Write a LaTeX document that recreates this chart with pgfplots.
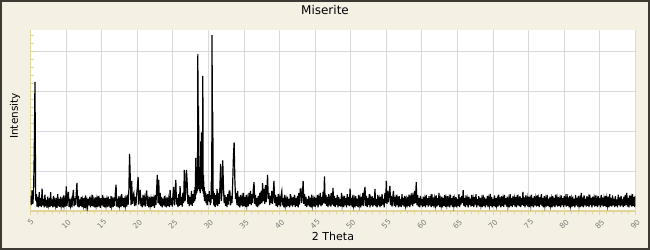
\documentclass[border=0pt]{standalone}
\usepackage{fontspec}
\setmainfont{DejaVu Sans}
\usepackage{pgfplots}
\pgfplotsset{compat=1.18}
\definecolor{bgcol}{HTML}{F4F1E4}
\definecolor{bordercol}{HTML}{3C3A32}
\definecolor{axcol}{HTML}{E0D69A}
\definecolor{gridcol}{HTML}{D9D9D9}
\definecolor{tickcol}{HTML}{7A7A7A}
\begin{document}
\begin{tikzpicture}
\useasboundingbox (0,0) rectangle (650bp,250bp);
\draw[draw=bordercol, line width=2bp, fill=bgcol] (1bp,1bp) rectangle (649bp,249bp);
\begin{axis}[
  at={(30.7bp,39bp)}, anchor=south west,
  scale only axis, width=604.6bp, height=181bp,
  xmin=5, xmax=90, ymin=0, ymax=4530,
  enlargelimits=false,
  axis background/.style={fill=white},
  axis x line*=bottom, axis y line*=left,
  axis line style={axcol, line width=1.3bp},
  tick style={axcol, line width=1bp},
  tick align=outside,
  major tick length=4.5bp, minor tick length=3.5bp,
  every major y tick/.append style={xshift=4.5bp},
  every minor y tick/.append style={xshift=3.5bp},
  xtick distance=5, minor x tick num=4,
  ytick distance=1000, minor y tick num=4,
  yticklabels={},
  grid=major, major grid style={gridcol, line width=1bp},
  /pgf/number format/assume math mode=true,
  xticklabel={\rotatebox{45}{\pgfmathprintnumber{\tick}}},
  xticklabel shift=2bp,
  xticklabel style={font=\fontsize{7.5bp}{8bp}\selectfont, text=tickcol, inner sep=1bp},
  xlabel={2 Theta}, ylabel={Intensity},
  every axis x label/.style={at={(axis description cs:0.5,-0.138)}, anchor=center, font=\fontsize{11bp}{12bp}\selectfont},
  every axis y label/.style={at={(axis description cs:-0.026,0.525)}, anchor=center, rotate=90, font=\fontsize{10.5bp}{12bp}\selectfont},
]
\addplot[black, line width=1.2bp, line join=miter] table[row sep=\\] {
x y\\
5.0 380\\ 5.1 150\\ 5.2 520\\ 5.3 180\\ 5.4 430\\ 5.5 1490\\ 5.6 3230\\ 5.7 260\\ 5.8 420\\ 5.9 110\\
6.0 350\\ 6.1 90\\ 6.2 470\\ 6.3 130\\ 6.4 320\\ 6.5 100\\ 6.6 560\\ 6.7 140\\ 6.8 300\\ 6.9 90\\
7.0 410\\ 7.1 120\\ 7.2 280\\ 7.3 80\\ 7.4 360\\ 7.5 150\\ 7.6 240\\ 7.7 100\\ 7.8 470\\ 7.9 130\\
8.0 290\\ 8.1 90\\ 8.2 380\\ 8.3 110\\ 8.4 250\\ 8.5 140\\ 8.6 330\\ 8.7 80\\ 8.8 420\\ 8.9 120\\
9.0 300\\ 9.1 100\\ 9.2 360\\ 9.3 130\\ 9.4 240\\ 9.5 90\\ 9.6 390\\ 9.7 150\\ 9.8 280\\ 9.9 110\\
10.0 615\\ 10.1 130\\ 10.2 350\\ 10.3 480\\ 10.4 100\\ 10.5 300\\ 10.6 140\\ 10.7 260\\ 10.8 90\\ 10.9 340\\
11.0 530\\ 11.1 120\\ 11.2 320\\ 11.3 150\\ 11.4 420\\ 11.5 700\\ 11.6 110\\ 11.7 380\\ 11.8 90\\ 11.9 290\\
12.0 130\\ 12.1 350\\ 12.2 100\\ 12.3 270\\ 12.4 140\\ 12.5 330\\ 12.6 80\\ 12.7 390\\ 12.8 120\\ 12.9 250\\
13.0 100\\ 13.1 310\\ 13.2 140\\ 13.3 360\\ 13.4 90\\ 13.5 280\\ 13.6 130\\ 13.7 400\\ 13.8 110\\ 13.9 240\\
14.0 90\\ 14.1 340\\ 14.2 150\\ 14.3 290\\ 14.4 100\\ 14.5 370\\ 14.6 120\\ 14.7 260\\ 14.8 80\\ 14.9 320\\
15.0 140\\ 15.1 400\\ 15.2 110\\ 15.3 250\\ 15.4 90\\ 15.5 330\\ 15.6 150\\ 15.7 280\\ 15.8 100\\ 15.9 360\\
16.0 120\\ 16.1 300\\ 16.2 80\\ 16.3 380\\ 16.4 140\\ 16.5 260\\ 16.6 100\\ 16.7 340\\ 16.8 130\\ 16.9 450\\
17.0 660\\ 17.1 110\\ 17.2 310\\ 17.3 90\\ 17.4 370\\ 17.5 150\\ 17.6 280\\ 17.7 100\\ 17.8 420\\ 17.9 130\\
18.0 330\\ 18.1 90\\ 18.2 260\\ 18.3 140\\ 18.4 390\\ 18.5 110\\ 18.6 300\\ 18.7 160\\ 18.8 520\\ 18.9 1430\\
19.0 830\\ 19.1 150\\ 19.2 755\\ 19.3 180\\ 19.4 400\\ 19.5 450\\ 19.6 120\\ 19.7 350\\ 19.8 140\\ 19.9 420\\
20.0 600\\ 20.1 850\\ 20.2 160\\ 20.3 380\\ 20.4 530\\ 20.5 120\\ 20.6 330\\ 20.7 90\\ 20.8 400\\ 20.9 140\\
21.0 300\\ 21.1 110\\ 21.2 380\\ 21.3 515\\ 21.4 130\\ 21.5 270\\ 21.6 90\\ 21.7 350\\ 21.8 150\\ 21.9 290\\
22.0 100\\ 22.1 360\\ 22.2 130\\ 22.3 280\\ 22.4 80\\ 22.5 400\\ 22.6 150\\ 22.7 520\\ 22.8 905\\ 22.9 200\\
23.0 780\\ 23.1 160\\ 23.2 450\\ 23.3 120\\ 23.4 350\\ 23.5 90\\ 23.6 310\\ 23.7 140\\ 23.8 380\\ 23.9 110\\
24.0 260\\ 24.1 90\\ 24.2 340\\ 24.3 130\\ 24.4 290\\ 24.5 100\\ 24.6 530\\ 24.7 150\\ 24.8 320\\ 24.9 110\\
25.0 400\\ 25.1 600\\ 25.2 140\\ 25.3 380\\ 25.4 780\\ 25.5 160\\ 25.6 330\\ 25.7 100\\ 25.8 420\\ 25.9 130\\
26.0 620\\ 26.1 150\\ 26.2 350\\ 26.3 110\\ 26.4 460\\ 26.5 200\\ 26.6 1030\\ 26.7 250\\ 26.8 480\\ 26.9 1030\\
27.0 700\\ 27.1 180\\ 27.2 400\\ 27.3 120\\ 27.4 350\\ 27.5 160\\ 27.6 500\\ 27.7 130\\ 27.8 420\\ 27.9 200\\
28.00 520\\ 28.05 250\\ 28.10 600\\ 28.15 300\\ 28.20 1330\\ 28.25 400\\ 28.30 1100\\ 28.35 450\\ 28.40 700\\ 28.45 500\\
28.50 3930\\ 28.55 600\\ 28.60 2630\\ 28.65 550\\ 28.70 1100\\ 28.75 500\\ 28.80 800\\ 28.85 450\\ 28.90 1740\\ 28.95 600\\
29.00 1965\\ 29.05 550\\ 29.10 900\\ 29.15 500\\ 29.20 3380\\ 29.25 450\\ 29.30 900\\ 29.35 350\\ 29.40 600\\ 29.45 250\\
29.50 500\\ 29.55 300\\ 29.60 450\\ 29.65 200\\ 29.70 400\\ 29.75 280\\ 29.80 350\\ 29.85 150\\ 29.90 420\\ 29.95 300\\
30.00 380\\ 30.05 250\\ 30.10 500\\ 30.15 220\\ 30.20 400\\ 30.25 150\\ 30.30 350\\ 30.35 200\\ 30.40 760\\ 30.45 300\\
30.50 4400\\ 30.55 500\\ 30.60 2490\\ 30.65 300\\ 30.70 500\\ 30.75 150\\ 30.80 450\\ 30.85 120\\ 30.90 380\\ 30.95 100\\
31.0 400\\ 31.1 150\\ 31.2 550\\ 31.3 120\\ 31.4 450\\ 31.5 180\\ 31.6 600\\ 31.7 1180\\ 31.8 250\\ 31.9 500\\
32.0 1265\\ 32.1 600\\ 32.2 200\\ 32.3 400\\ 32.4 130\\ 32.5 350\\ 32.6 100\\ 32.7 420\\ 32.8 160\\ 32.9 500\\
33.0 500\\ 33.1 140\\ 33.2 380\\ 33.3 200\\ 33.4 700\\ 33.5 1365\\ 33.6 1715\\ 33.7 800\\ 33.8 300\\ 33.9 450\\
34.0 150\\ 34.1 500\\ 34.2 120\\ 34.3 350\\ 34.4 90\\ 34.5 400\\ 34.6 140\\ 34.7 300\\ 34.8 110\\ 34.9 455\\
35.0 130\\ 35.1 350\\ 35.2 100\\ 35.3 400\\ 35.4 160\\ 35.5 300\\ 35.6 120\\ 35.7 450\\ 35.8 180\\ 35.9 500\\
36.0 150\\ 36.1 420\\ 36.2 200\\ 36.3 550\\ 36.4 720\\ 36.5 180\\ 36.6 400\\ 36.7 120\\ 36.8 330\\ 36.9 100\\
37.0 380\\ 37.1 140\\ 37.2 450\\ 37.3 170\\ 37.4 500\\ 37.5 200\\ 37.6 700\\ 37.7 250\\ 37.8 550\\ 37.9 180\\
38.0 650\\ 38.1 220\\ 38.2 500\\ 38.3 905\\ 38.4 300\\ 38.5 450\\ 38.6 150\\ 38.7 380\\ 38.8 200\\ 38.9 500\\
39.0 180\\ 39.1 450\\ 39.2 755\\ 39.3 200\\ 39.4 400\\ 39.5 130\\ 39.6 350\\ 39.7 100\\ 39.8 420\\ 39.9 150\\
40.0 300\\ 40.1 110\\ 40.2 380\\ 40.3 490\\ 40.4 140\\ 40.5 330\\ 40.6 90\\ 40.7 400\\ 40.8 150\\ 40.9 280\\
41.0 100\\ 41.1 360\\ 41.2 130\\ 41.3 300\\ 41.4 90\\ 41.5 420\\ 41.6 140\\ 41.7 270\\ 41.8 110\\ 41.9 350\\
42.0 150\\ 42.1 400\\ 42.2 100\\ 42.3 320\\ 42.4 130\\ 42.5 380\\ 42.6 90\\ 42.7 450\\ 42.8 160\\ 42.9 550\\
43.0 550\\ 43.1 200\\ 43.2 400\\ 43.3 755\\ 43.4 180\\ 43.5 420\\ 43.6 130\\ 43.7 350\\ 43.8 100\\ 43.9 300\\
44.0 140\\ 44.1 380\\ 44.2 110\\ 44.3 330\\ 44.4 90\\ 44.5 410\\ 44.6 150\\ 44.7 280\\ 44.8 120\\ 44.9 360\\
45.0 100\\ 45.1 330\\ 45.2 140\\ 45.3 400\\ 45.4 90\\ 45.5 300\\ 45.6 160\\ 45.7 450\\ 45.8 120\\ 45.9 350\\
46.0 150\\ 46.1 480\\ 46.2 200\\ 46.3 865\\ 46.4 180\\ 46.5 400\\ 46.6 130\\ 46.7 350\\ 46.8 100\\ 46.9 420\\
47.0 140\\ 47.1 300\\ 47.2 110\\ 47.3 450\\ 47.4 160\\ 47.5 575\\ 47.6 130\\ 47.7 380\\ 47.8 100\\ 47.9 320\\
48.0 150\\ 48.1 400\\ 48.2 90\\ 48.3 350\\ 48.4 130\\ 48.5 300\\ 48.6 110\\ 48.7 455\\ 48.8 160\\ 48.9 280\\
49.0 100\\ 49.1 380\\ 49.2 140\\ 49.3 320\\ 49.4 90\\ 49.5 420\\ 49.6 150\\ 49.7 350\\ 49.8 120\\ 49.9 560\\
50.0 140\\ 50.1 330\\ 50.2 100\\ 50.3 400\\ 50.4 150\\ 50.5 280\\ 50.6 90\\ 50.7 370\\ 50.8 130\\ 50.9 310\\
51.0 100\\ 51.1 400\\ 51.2 160\\ 51.3 300\\ 51.4 90\\ 51.5 360\\ 51.6 140\\ 51.7 450\\ 51.8 120\\ 51.9 480\\
52.0 600\\ 52.1 130\\ 52.2 380\\ 52.3 100\\ 52.4 320\\ 52.5 150\\ 52.6 420\\ 52.7 90\\ 52.8 290\\ 52.9 140\\
53.0 370\\ 53.1 110\\ 53.2 330\\ 53.3 150\\ 53.4 550\\ 53.5 120\\ 53.6 300\\ 53.7 90\\ 53.8 400\\ 53.9 140\\
54.0 280\\ 54.1 100\\ 54.2 360\\ 54.3 130\\ 54.4 420\\ 54.5 160\\ 54.6 310\\ 54.7 90\\ 54.8 450\\ 54.9 200\\
55.0 755\\ 55.1 180\\ 55.2 500\\ 55.3 220\\ 55.4 420\\ 55.5 630\\ 55.6 150\\ 55.7 380\\ 55.8 110\\ 55.9 330\\
56.0 500\\ 56.1 130\\ 56.2 350\\ 56.3 100\\ 56.4 400\\ 56.5 150\\ 56.6 290\\ 56.7 90\\ 56.8 370\\ 56.9 120\\
57.0 300\\ 57.1 100\\ 57.2 420\\ 57.3 140\\ 57.4 330\\ 57.5 110\\ 57.6 380\\ 57.7 150\\ 57.8 280\\ 57.9 90\\
58.0 350\\ 58.1 130\\ 58.2 410\\ 58.3 100\\ 58.4 300\\ 58.5 160\\ 58.6 450\\ 58.7 120\\ 58.8 330\\ 58.9 180\\
59.0 500\\ 59.1 200\\ 59.2 720\\ 59.3 150\\ 59.4 400\\ 59.5 110\\ 59.6 330\\ 59.7 90\\ 59.8 380\\ 59.9 140\\
60.0 300\\ 60.1 100\\ 60.2 360\\ 60.3 130\\ 60.4 280\\ 60.5 90\\ 60.6 400\\ 60.7 150\\ 60.8 320\\ 60.9 110\\
61.0 370\\ 61.1 140\\ 61.2 290\\ 61.3 100\\ 61.4 420\\ 61.5 130\\ 61.6 340\\ 61.7 90\\ 61.8 300\\ 61.9 160\\
62.0 390\\ 62.1 110\\ 62.2 320\\ 62.3 140\\ 62.4 450\\ 62.5 100\\ 62.6 280\\ 62.7 150\\ 62.8 360\\ 62.9 90\\
63.0 330\\ 63.1 130\\ 63.2 400\\ 63.3 100\\ 63.4 300\\ 63.5 160\\ 63.6 370\\ 63.7 120\\ 63.8 280\\ 63.9 90\\
64.0 410\\ 64.1 140\\ 64.2 320\\ 64.3 100\\ 64.4 380\\ 64.5 150\\ 64.6 290\\ 64.7 110\\ 64.8 350\\ 64.9 90\\
65.0 300\\ 65.1 130\\ 65.2 420\\ 65.3 100\\ 65.4 340\\ 65.5 160\\ 65.6 380\\ 65.7 200\\ 65.8 520\\ 65.9 130\\
66.0 330\\ 66.1 100\\ 66.2 390\\ 66.3 140\\ 66.4 280\\ 66.5 90\\ 66.6 360\\ 66.7 150\\ 66.8 310\\ 66.9 110\\
67.0 400\\ 67.1 130\\ 67.2 290\\ 67.3 100\\ 67.4 350\\ 67.5 160\\ 67.6 420\\ 67.7 90\\ 67.8 300\\ 67.9 140\\
68.0 370\\ 68.1 110\\ 68.2 330\\ 68.3 150\\ 68.4 280\\ 68.5 100\\ 68.6 400\\ 68.7 130\\ 68.8 340\\ 68.9 90\\
69.0 310\\ 69.1 140\\ 69.2 380\\ 69.3 100\\ 69.4 290\\ 69.5 160\\ 69.6 430\\ 69.7 120\\ 69.8 350\\ 69.9 90\\
70.0 300\\ 70.1 130\\ 70.2 390\\ 70.3 100\\ 70.4 330\\ 70.5 150\\ 70.6 280\\ 70.7 110\\ 70.8 410\\ 70.9 140\\
71.0 340\\ 71.1 90\\ 71.2 370\\ 71.3 130\\ 71.4 290\\ 71.5 100\\ 71.6 400\\ 71.7 160\\ 71.8 320\\ 71.9 110\\
72.0 360\\ 72.1 140\\ 72.2 280\\ 72.3 90\\ 72.4 420\\ 72.5 130\\ 72.6 330\\ 72.7 100\\ 72.8 380\\ 72.9 150\\
73.0 300\\ 73.1 110\\ 73.2 350\\ 73.3 90\\ 73.4 400\\ 73.5 140\\ 73.6 290\\ 73.7 120\\ 73.8 370\\ 73.9 100\\
74.0 320\\ 74.1 150\\ 74.2 480\\ 74.3 130\\ 74.4 340\\ 74.5 90\\ 74.6 390\\ 74.7 140\\ 74.8 300\\ 74.9 110\\
75.0 360\\ 75.1 100\\ 75.2 280\\ 75.3 150\\ 75.4 410\\ 75.5 120\\ 75.6 330\\ 75.7 90\\ 75.8 370\\ 75.9 140\\
76.0 300\\ 76.1 110\\ 76.2 390\\ 76.3 130\\ 76.4 290\\ 76.5 100\\ 76.6 350\\ 76.7 160\\ 76.8 420\\ 76.9 120\\
77.0 330\\ 77.1 90\\ 77.2 370\\ 77.3 140\\ 77.4 280\\ 77.5 110\\ 77.6 400\\ 77.7 130\\ 77.8 310\\ 77.9 100\\
78.0 360\\ 78.1 150\\ 78.2 290\\ 78.3 90\\ 78.4 380\\ 78.5 120\\ 78.6 330\\ 78.7 100\\ 78.8 410\\ 78.9 140\\
79.0 300\\ 79.1 110\\ 79.2 350\\ 79.3 130\\ 79.4 280\\ 79.5 90\\ 79.6 390\\ 79.7 150\\ 79.8 320\\ 79.9 100\\
80.0 370\\ 80.1 140\\ 80.2 300\\ 80.3 110\\ 80.4 420\\ 80.5 130\\ 80.6 340\\ 80.7 90\\ 80.8 380\\ 80.9 150\\
81.0 290\\ 81.1 100\\ 81.2 360\\ 81.3 130\\ 81.4 310\\ 81.5 90\\ 81.6 400\\ 81.7 140\\ 81.8 330\\ 81.9 110\\
82.0 380\\ 82.1 150\\ 82.2 280\\ 82.3 100\\ 82.4 450\\ 82.5 120\\ 82.6 340\\ 82.7 90\\ 82.8 390\\ 82.9 140\\
83.0 310\\ 83.1 110\\ 83.2 370\\ 83.3 130\\ 83.4 290\\ 83.5 100\\ 83.6 410\\ 83.7 150\\ 83.8 330\\ 83.9 90\\
84.0 360\\ 84.1 140\\ 84.2 300\\ 84.3 110\\ 84.4 390\\ 84.5 130\\ 84.6 280\\ 84.7 100\\ 84.8 370\\ 84.9 150\\
85.0 320\\ 85.1 90\\ 85.2 400\\ 85.3 140\\ 85.4 340\\ 85.5 110\\ 85.6 290\\ 85.7 130\\ 85.8 380\\ 85.9 100\\
86.0 300\\ 86.1 150\\ 86.2 360\\ 86.3 90\\ 86.4 420\\ 86.5 130\\ 86.6 330\\ 86.7 110\\ 86.8 390\\ 86.9 140\\
87.0 310\\ 87.1 100\\ 87.2 370\\ 87.3 130\\ 87.4 290\\ 87.5 90\\ 87.6 410\\ 87.7 150\\ 87.8 340\\ 87.9 110\\
88.0 380\\ 88.1 140\\ 88.2 300\\ 88.3 100\\ 88.4 360\\ 88.5 130\\ 88.6 400\\ 88.7 150\\ 88.8 450\\ 88.9 110\\
89.0 330\\ 89.1 90\\ 89.2 390\\ 89.3 140\\ 89.4 300\\ 89.5 110\\ 89.6 420\\ 89.7 130\\ 89.8 350\\ 89.9 100\\
90.0 380\\
};
\end{axis}
\node[font=\fontsize{12bp}{14bp}\selectfont] at (325bp,240bp) {Miserite};
\end{tikzpicture}
\end{document}
